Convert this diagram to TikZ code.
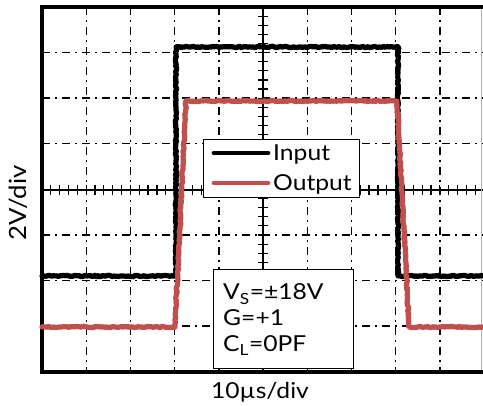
\documentclass[tikz,border=0pt]{standalone}
\usepackage{fontspec}
\setmainfont{Lato}
\usetikzlibrary{decorations.pathmorphing}
\definecolor{outred}{RGB}{192,80,77}
\begin{document}
\begin{tikzpicture}[x=1pt,y=-1pt,
  gridline/.style={line width=1.4pt, dash pattern=on 8pt off 5pt on 2pt off 5pt},
  axisline/.style={line width=1.4pt},
  frameline/.style={line width=4.5pt},
  trace/.style={line width=5.2pt, line join=round, line cap=round},
  noisy/.style={decorate, decoration={random steps, segment length=1.6pt, amplitude=0.7pt}},
  boxstyle/.style={draw, fill=white, line width=1.3pt, inner sep=0pt},
  lbl/.style={font=\fontsize{22}{26}\selectfont, inner sep=0pt, xscale=1.12}
]
\pgfmathsetseed{7}
\useasboundingbox (0,0) rectangle (483,406);
% grid
\foreach \k in {1,2,3,4,6,7,8,9}{
  \draw[gridline] ({42+\k*44.2},7) -- ({42+\k*44.2},372);
}
\foreach \k in {1,2,3,5,6,7}{
  \draw[gridline] (42,{7+\k*45.6}) -- (483,{7+\k*45.6});
}
% axes with ticks
\draw[axisline] (42,190) -- (483,190);
\foreach \k in {1,...,49}{
  \draw[line width=1.2pt] ({42+\k*8.84},185) -- ({42+\k*8.84},195);
}
\draw[axisline] (263,7) -- (263,372);
\foreach \k in {1,...,39}{
  \draw[line width=1.2pt] (258,{7+\k*9.12}) -- (268,{7+\k*9.12});
}
% frame
\draw[frameline] (483,7) -- (42,7) -- (42,372) -- (483,372);
\draw[line width=0.8pt, gray!60] (481.5,9) -- (481.5,370);
% traces
\draw[trace, noisy] (42,276) -- (176,276) -- (176,47) -- (398,47) -- (398,276) -- (483,276);
\draw[trace, outred, noisy] (42,327) -- (175,327) -- (186,101) -- (397,101) -- (409,327) -- (483,327);
% legend
\node[boxstyle, minimum width=156pt, minimum height=58pt, anchor=north west] (legend) at (203,139) {};
\coordinate (inA) at (214,153);
\coordinate (inB) at (268,153);
\coordinate (outA) at (214,183);
\coordinate (outB) at (268,183);
\draw[line width=4.8pt, line cap=round] (inA) -- (inB);
\draw[line width=4.8pt, line cap=round, outred] (outA) -- (outB);
\node[lbl, anchor=base west] (tin) at (273,161) {Input};
\node[lbl, anchor=base west] (tout) at (273,191) {Output};
% info box
\node[boxstyle, minimum width=140pt, minimum height=99pt, anchor=north west] (info) at (213,269) {};
\node[lbl, anchor=base west] (vs) at (223,300) {V\textsubscript{S}=±18V};
\node[lbl, anchor=base west] (g) at (223,326) {G=+1};
\node[lbl, anchor=base west] (cl) at (223,352) {C\textsubscript{L}=0PF};
% axis labels
\node[font=\fontsize{22}{26}\selectfont, inner sep=0pt, anchor=base, rotate=90] (ylab) at (27,203) {\scalebox{1.17}[1.08]{2V/div}};
\node[lbl, anchor=base] (xlab) at (260,399) {10µs/div};
\end{tikzpicture}
\end{document}
